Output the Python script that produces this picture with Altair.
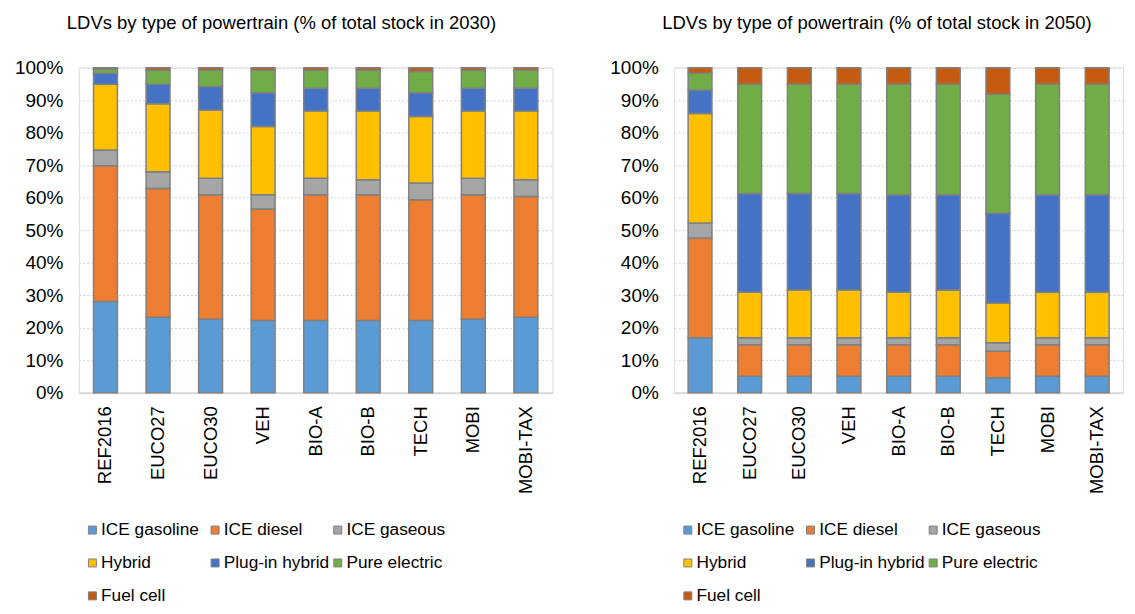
import altair as alt
import pandas as pd

categories = ["REF2016", "EUCO27", "EUCO30", "VEH", "BIO-A", "BIO-B", "TECH", "MOBI", "MOBI-TAX"]
series = ["ICE gasoline", "ICE diesel", "ICE gaseous", "Hybrid", "Plug-in hybrid", "Pure electric", "Fuel cell"]
colors = ["#5B9BD5", "#ED7D31", "#A5A5A5", "#FFC000", "#4472C4", "#70AD47", "#C55A11"]

# 2030 shares (% of total stock)
ice_gasoline_2030 = [28.1, 23.2, 22.7, 22.2, 22.2, 22.2, 22.2, 22.7, 23.2]
ice_diesel_2030 = [41.7, 39.6, 38.2, 34.3, 38.7, 38.7, 37.2, 38.2, 37.2]
ice_gaseous_2030 = [4.9, 5.2, 5.1, 4.4, 5.1, 4.6, 5.1, 5.1, 5.1]
hybrid_2030 = [20.2, 20.9, 20.9, 21.0, 20.7, 21.2, 20.5, 20.7, 21.2]
plugin_2030 = [3.4, 6.0, 7.3, 10.4, 7.0, 7.0, 7.3, 7.0, 7.0]
electric_2030 = [1.2, 4.3, 5.0, 6.9, 5.5, 5.5, 6.5, 5.5, 5.5]
fuelcell_2030 = [0.5, 0.8, 0.8, 0.8, 0.8, 0.8, 1.2, 0.8, 0.8]

# 2050 shares (% of total stock)
ice_gasoline_2050 = [16.9, 5.1, 5.1, 5.1, 5.1, 5.1, 4.6, 5.1, 5.1]
ice_diesel_2050 = [30.7, 9.7, 9.7, 9.7, 9.7, 9.7, 8.2, 9.7, 9.7]
ice_gaseous_2050 = [4.6, 2.1, 2.1, 2.1, 2.1, 2.1, 2.6, 2.1, 2.1]
hybrid_2050 = [33.7, 14.0, 14.7, 14.7, 14.0, 14.7, 12.2, 14.0, 14.0]
plugin_2050 = [7.2, 30.4, 29.7, 29.7, 30.0, 29.3, 27.6, 30.0, 30.0]
electric_2050 = [5.2, 33.6, 33.6, 33.6, 34.0, 34.0, 36.6, 34.0, 34.0]
fuelcell_2050 = [1.7, 5.1, 5.1, 5.1, 5.1, 5.1, 8.2, 5.1, 5.1]

data_2030 = [ice_gasoline_2030, ice_diesel_2030, ice_gaseous_2030, hybrid_2030,
             plugin_2030, electric_2030, fuelcell_2030]
data_2050 = [ice_gasoline_2050, ice_diesel_2050, ice_gaseous_2050, hybrid_2050,
             plugin_2050, electric_2050, fuelcell_2050]


def to_frame(lists):
    rows = []
    for i, (s, vals) in enumerate(zip(series, lists)):
        for c, v in zip(categories, vals):
            rows.append({"scenario": c, "series": s, "idx": i, "value": v})
    return pd.DataFrame(rows)


def panel(df, title, width, pad_inner):
    return alt.Chart(df).mark_bar(stroke="#808080", strokeWidth=1.5).encode(
        x=alt.X("scenario:N", sort=categories,
                scale=alt.Scale(paddingInner=pad_inner, paddingOuter=0.28),
                axis=alt.Axis(title=None, labelAngle=270, labelFontSize=18.5, labelPadding=13,
                              ticks=False, domainColor="#d9d9d9", domainWidth=2, grid=False,
                              labelColor="black")),
        y=alt.Y("value:Q", stack="zero",
                scale=alt.Scale(domain=[0, 100], nice=False),
                axis=alt.Axis(title=None, values=list(range(0, 101, 10)),
                              labelExpr="datum.value + '%'", labelFontSize=19, labelPadding=16,
                              labelColor="black", domain=False, ticks=False,
                              gridColor="#d0d0d0", gridDash=[2, 2], gridWidth=1)),
        color=alt.Color("series:N", sort=series,
                        scale=alt.Scale(domain=series, range=colors),
                        legend=alt.Legend(title=None, orient="none", legendX=5, legendY=455,
                                          direction="horizontal", columns=3, symbolType="square",
                                          symbolSize=64, symbolStrokeColor="#808080",
                                          symbolStrokeWidth=1, labelFontSize=17.3, labelColor="black",
                                          rowPadding=15, columnPadding=0, gridAlign="all",
                                          labelOffset=0, padding=0)),
        order=alt.Order("idx:Q", sort="ascending"),
    ).properties(
        width=width, height=326,
        title=alt.Title(title, anchor="start", frame="group", dx=-12, fontSize=18.5,
                        fontWeight="normal", color="black", offset=26),
    )


left = panel(to_frame(data_2030), "LDVs by type of powertrain (% of total stock in 2030)", 475, 0.545)
right = panel(to_frame(data_2050), "LDVs by type of powertrain (% of total stock in 2050)", 450, 0.52)

chart = alt.hconcat(left, right, spacing=55).resolve_legend(color="independent").properties(
    padding={"left": 5, "top": 5, "right": 3, "bottom": 0}
).configure_view(stroke=None).configure(font="Liberation Sans")

chart.save("out.html", embed_options={"renderer": "svg", "actions": False})
